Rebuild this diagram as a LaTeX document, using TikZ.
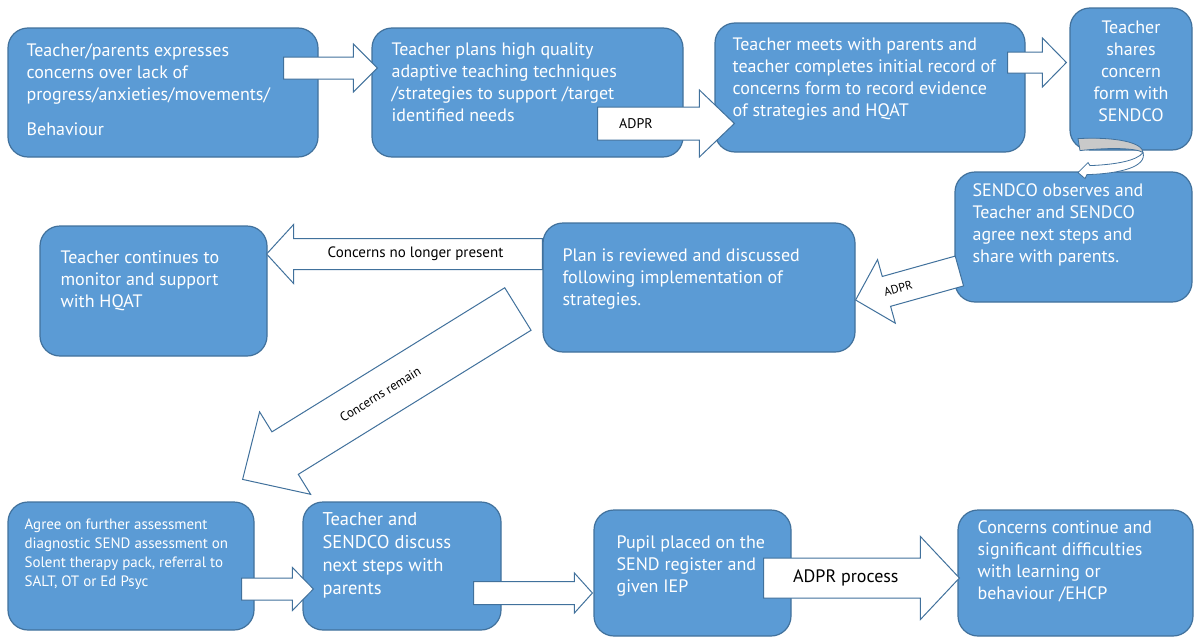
\documentclass[tikz,border=0pt]{standalone}
\usepackage{fontspec}
\setmainfont{PT Sans}
\usepackage{tikz}
\usetikzlibrary{positioning, calc}
\definecolor{boxblue}{HTML}{5B9BD5}
\definecolor{edgeblue}{HTML}{41719C}
\definecolor{ringgrey}{HTML}{C9C9C9}
\tikzset{
stepbox/.style = { rectangle, draw = edgeblue, fill = boxblue, line width = 1.2pt, rounded corners = 20pt, inner sep = 0pt },
steptext/.style = { text = white, align = left, inner sep = 0pt, anchor = north west, font = \fontsize{18}{22}\selectfont },
smalltext/.style = { steptext, font = \fontsize{15}{19}\selectfont },
flowarrow/.style = { draw = edgeblue, fill = white, line width = 1pt, line join = miter },
arrowlabel/.style = { text = black, inner sep = 1pt, font = \fontsize{14}{15}\selectfont },
}
% block arrow: tail, tip, shaft half width, head half width, head length
\newcommand{\blockarrow}[5]{%
  \coordinate (hb) at ($(#2)!#5!(#1)$);
  \draw[flowarrow] ($(#1)!#3!90:(#2)$) -- ($(hb)!#3!90:(#2)$) -- ($(hb)!#4!90:(#2)$) -- (#2)
    -- ($(hb)!#4!-90:(#2)$) -- ($(hb)!#3!-90:(#2)$) -- ($(#1)!#3!-90:(#2)$) -- cycle;
}

\begin{document}
\begin{tikzpicture}[x = 1pt, y = -1pt]
  \useasboundingbox (0, 0) rectangle (1196, 637);

  % boxes
  \node[stepbox, minimum width = 310pt, minimum height = 129pt] (concern) at (163, 92.5) {};
  \node[stepbox, minimum width = 311pt, minimum height = 129pt] (plans) at (527.5, 92.5) {};
  \node[stepbox, minimum width = 310pt, minimum height = 129pt] (meets) at (870, 87.5) {};
  \node[stepbox, minimum width = 122pt, minimum height = 142pt] (shares) at (1131, 79) {};
  \node[stepbox, minimum width = 237pt, minimum height = 130pt] (observes) at (1073.5, 237) {};
  \node[stepbox, minimum width = 312pt, minimum height = 129pt] (reviewed) at (699, 287.5) {};
  \node[stepbox, minimum width = 227pt, minimum height = 130pt] (continues) at (153.5, 291) {};
  \node[stepbox, minimum width = 246pt, minimum height = 128pt] (further) at (131, 566) {};
  \node[stepbox, minimum width = 198pt, minimum height = 128pt] (discuss) at (402, 566) {};
  \node[stepbox, minimum width = 197pt, minimum height = 126pt] (placed) at (692.5, 573) {};
  \node[stepbox, minimum width = 235pt, minimum height = 126pt] (escalate) at (1075.5, 573) {};

  % box texts
  \node[steptext, below right = 16pt and 19pt of concern.north west] (concern-t)
    {Teacher/parents expresses\\ concerns over lack of\\ progress/anxieties/movements/\\[13pt] Behaviour};
  \node[steptext, below right = 15pt and 20pt of plans.north west] (plans-t)
    {Teacher plans high quality\\ adaptive teaching techniques\\ /strategies to support /target\\ identified needs};
  \node[steptext, below right = 15pt and 18pt of meets.north west] (meets-t)
    {Teacher meets with parents and\\ teacher completes initial record of\\ concerns form to record evidence\\ of strategies and HQAT};
  \node[steptext, align = center, anchor = north, below = 13pt of shares.north] (shares-t)
    {Teacher\\ shares\\ concern\\ form with\\ SENDCO};
  \node[steptext, below right = 12pt and 18pt of observes.north west] (observes-t)
    {SENDCO observes and\\ Teacher and SENDCO\\ agree next steps and\\ share with parents.};
  \node[steptext, below right = 26pt and 20pt of reviewed.north west] (reviewed-t)
    {Plan is reviewed and discussed\\ following implementation of\\ strategies.};
  \node[steptext, below right = 25pt and 21pt of continues.north west] (continues-t)
    {Teacher continues to\\ monitor and support\\ with HQAT};
  \node[smalltext, below right = 17pt and 17pt of further.north west] (further-t)
    {Agree on further assessment\\ diagnostic SEND assessment on\\ Solent therapy pack, referral to\\ SALT, OT or Ed Psyc};
  \node[steptext, font = \fontsize{18.5}{23}\selectfont, below right = 11pt and 20pt of discuss.north west] (discuss-t)
    {Teacher and\\ SENDCO discuss\\ next steps with\\ parents};
  \node[steptext, below right = 26pt and 23pt of placed.north west] (placed-t)
    {Pupil placed on the\\ SEND register and\\ given IEP};
  \node[steptext, below right = 11pt and 20pt of escalate.north west] (escalate-t)
    {Concerns continue and\\ significant difficulties\\ with learning or\\ behaviour /EHCP};

  % arrow ends
  \coordinate (a1s) at ($(concern.east) + (-35, -24.5)$);
  \coordinate (a1e) at ($(plans.west) + (6, -24.5)$);
  \coordinate (a2s) at ($(plans.east) + (-86, 31)$);
  \coordinate (a2e) at ($(meets.west) + (20, 36)$);
  \coordinate (a3s) at ($(meets.east) + (-18, -25)$);
  \coordinate (a3e) at ($(shares.west) + (-3, -16.5)$);
  \coordinate (a5s) at ($(observes.west) + (5, 34)$);
  \coordinate (a5e) at ($(reviewed.east) + (0, 12.5)$);
  \coordinate (a6s) at ($(reviewed.west) + (0, -33.5)$);
  \coordinate (a6e) at ($(continues.east) + (-1, -37)$);
  \coordinate (a7s) at ($(reviewed.west) + (-24.5, 21.5)$);
  \coordinate (a7e) at ($(further.north east) + (-12, -22)$);
  \coordinate (a8s) at ($(further.east) + (-13, 23)$);
  \coordinate (a8e) at ($(discuss.west) + (11, 23)$);
  \coordinate (a9s) at ($(discuss.east) + (-28, 27)$);
  \coordinate (a9e) at ($(placed.west) + (-1, 20)$);
  \coordinate (a10s) at ($(placed.east) + (-28, 5)$);
  \coordinate (a10e) at ($(escalate.west) + (2, 5)$);

  % arrows
  \blockarrow{a1s}{a1e}{11pt}{24pt}{24pt}
  \blockarrow{a2s}{a2e}{16.5pt}{33.5pt}{35pt}
  \blockarrow{a3s}{a3e}{10.5pt}{24.5pt}{24pt}
  \blockarrow{a5s}{a5e}{15.5pt}{33pt}{32pt}
  \blockarrow{a6s}{a6e}{15.5pt}{29.5pt}{27pt}
  \blockarrow{a7s}{a7e}{25pt}{48.5pt}{50pt}
  \blockarrow{a8s}{a8e}{11pt}{21.5pt}{21pt}
  \blockarrow{a9s}{a9e}{11.5pt}{20pt}{18pt}
  \blockarrow{a10s}{a10e}{20pt}{41.5pt}{39pt}

  % turning arrow under the form box
  \begin{scope}[shift = {(shares.south)}]
    \draw[draw = edgeblue, fill = ringgrey, line width = 0.8pt] (-53, -12) .. controls (-15, -14) and (12, -8) .. (12, 2)
      .. controls (5, -3) and (-25, -3) .. (-51, 0) -- cycle;
    \draw[flowarrow, line width = 0.8pt] (12, 2) .. controls (6, 10) and (-15, 14) .. (-41, 15) -- (-43, 12) -- (-53, 22)
      -- (-46, 28) -- (-44, 24) .. controls (-10, 23) and (16, 16) .. (12, 2) -- cycle;
  \end{scope}

  % labels
  \path (a2s) -- (a2e) node[arrowlabel, pos = 0.28] (adpr-a) {ADPR};
  \path (a5s) -- (a5e) node[arrowlabel, sloped, pos = 0.59, font = \fontsize{12}{13}\selectfont] (adpr-b) {ADPR};
  \path (a6s) -- (a6e) node[arrowlabel, pos = 0.46, font = \fontsize{15}{16}\selectfont] (gone) {Concerns no longer present};
  \path (a7s) -- (a7e) node[arrowlabel, sloped, pos = 0.5, font = \fontsize{13}{14}\selectfont] (remain) {Concerns remain};
  \path (a10s) -- (a10e) node[arrowlabel, pos = 0.42, font = \fontsize{18}{19}\selectfont] (adpr-c) {ADPR process};
\end{tikzpicture}
\end{document}
